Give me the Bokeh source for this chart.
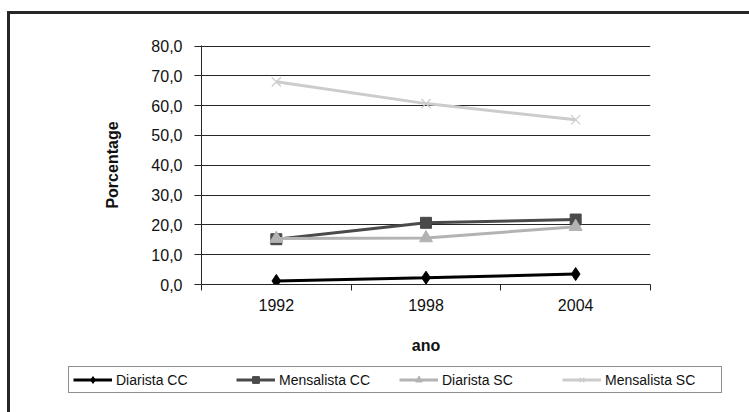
from bokeh.plotting import figure
from bokeh.layouts import column
from bokeh.models import Range1d, FixedTicker, Legend, LegendItem
from bokeh.embed import file_html
from bokeh.resources import INLINE

years = ["1992", "1998", "2004"]
diarista_cc = [1.2, 2.3, 3.5]
mensalista_cc = [15.2, 20.7, 21.8]
diarista_sc = [15.4, 15.6, 19.4]
mensalista_sc = [68.0, 60.7, 55.3]
y_ticks = [0, 10, 20, 30, 40, 50, 60, 70, 80]
y_tick_labels = ["0,0", "10,0", "20,0", "30,0", "40,0", "50,0", "60,0", "70,0", "80,0"]

FONT = "Liberation Sans"
x = [i + 0.5 for i in range(len(years))]

border_css = """
:host::before {
  content: "";
  position: absolute;
  left: 7px; top: 11px; right: 0px; bottom: 0px;
  border-left: 3px solid #262626;
  border-top: 3px solid #262626;
  z-index: 10;
  pointer-events: none;
}
"""

p = figure(width=749, height=360, output_backend="svg", toolbar_location=None,
           x_range=Range1d(0, len(years)), y_range=Range1d(0, 80.2),
           min_border_left=201, min_border_right=99, min_border_top=45,
           min_border_bottom=76, frame_align=False)
p.outline_line_color = None
p.background_fill_color = "white"
p.border_fill_color = "white"

# grid
p.xgrid.grid_line_color = None
p.ygrid.ticker = FixedTicker(ticks=y_ticks)
p.ygrid.grid_line_color = "#262626"
p.ygrid.grid_line_width = 1

# y axis
p.yaxis.ticker = FixedTicker(ticks=y_ticks)
p.yaxis.major_label_overrides = {t: l for t, l in zip(y_ticks, y_tick_labels)}
p.yaxis.axis_label = "Porcentage"
p.yaxis.axis_label_text_font = FONT
p.yaxis.axis_label_text_font_style = "bold"
p.yaxis.axis_label_text_font_size = "16px"
p.yaxis.axis_label_text_color = "#111111"
p.yaxis.axis_label_standoff = 27
p.yaxis.major_label_text_font = FONT
p.yaxis.major_label_text_font_size = "16px"
p.yaxis.major_label_text_color = "#111111"
p.yaxis.major_label_standoff = 12
p.yaxis.major_tick_in = 0
p.yaxis.major_tick_out = 7
p.yaxis.minor_tick_line_color = None
p.yaxis.axis_line_color = "#262626"
p.yaxis.major_tick_line_color = "#262626"

# x axis: labels at category centres, tick marks at category boundaries
p.xaxis.ticker = FixedTicker(ticks=x, minor_ticks=list(range(len(years) + 1)))
p.xaxis.major_label_overrides = {xi: yr for xi, yr in zip(x, years)}
p.xaxis.major_tick_in = 0
p.xaxis.major_tick_out = 0
p.xaxis.minor_tick_in = 0
p.xaxis.minor_tick_out = 6
p.xaxis.minor_tick_line_color = "#262626"
p.xaxis.axis_line_color = "#262626"
p.xaxis.major_label_text_font = FONT
p.xaxis.major_label_text_font_size = "16px"
p.xaxis.major_label_text_color = "#111111"
p.xaxis.major_label_standoff = 8
p.xaxis.axis_label = "ano"
p.xaxis.axis_label_text_font = FONT
p.xaxis.axis_label_text_font_style = "bold"
p.xaxis.axis_label_text_font_size = "16px"
p.xaxis.axis_label_text_color = "#111111"
p.xaxis.axis_label_standoff = 23

series = [
    ("Diarista CC", diarista_cc, "#000000", "diamond", 13),
    ("Mensalista CC", mensalista_cc, "#4a4a4a", "square", 11),
    ("Diarista SC", diarista_sc, "#b3b3b3", "triangle", 13),
    ("Mensalista SC", mensalista_sc, "#cccccc", "x", 13),
]


def draw(fig, vals, col, marker, size):
    r1 = fig.line(x, vals, line_color=col, line_width=3)
    if marker == "x":
        r2 = fig.scatter(x, vals, marker=marker, size=size, line_color=col, line_width=1.2)
    else:
        r2 = fig.scatter(x, vals, marker=marker, size=size, fill_color=col, line_color=col)
    return [r1, r2]


for name, vals, col, marker, size in series:
    draw(p, vals, col, marker, size)

# legend strip below the chart (its own figure so the legend is never clipped)
lg = figure(width=749, height=52, output_backend="svg", toolbar_location=None,
            x_range=Range1d(0, len(years)), y_range=Range1d(1000, 1001),
            x_axis_location=None, y_axis_location=None,
            min_border=0, min_border_left=0, min_border_right=0,
            min_border_top=0, min_border_bottom=0, frame_align=False)
lg.outline_line_color = None
lg.xgrid.grid_line_color = None
lg.ygrid.grid_line_color = None
lg.background_fill_color = "white"
lg.border_fill_color = "white"

items = []
for name, vals, col, marker, size in series:
    items.append(LegendItem(label=name, renderers=draw(lg, vals, col, marker, size)))

legend = Legend(items=items, orientation="horizontal", location=(68, 19),
                glyph_width=39, glyph_height=17, label_height=17, label_width=112,
                label_standoff=4, spacing=8, padding=4, margin=0,
                label_text_font=FONT, label_text_font_size="14px",
                label_text_color="#111111",
                border_line_color="#222222", border_line_width=1,
                background_fill_color="white", background_fill_alpha=1)
lg.add_layout(legend, "center")

layout = column(p, lg, spacing=0, stylesheets=[border_css])
open("out.html", "w").write(file_html(layout, INLINE))
